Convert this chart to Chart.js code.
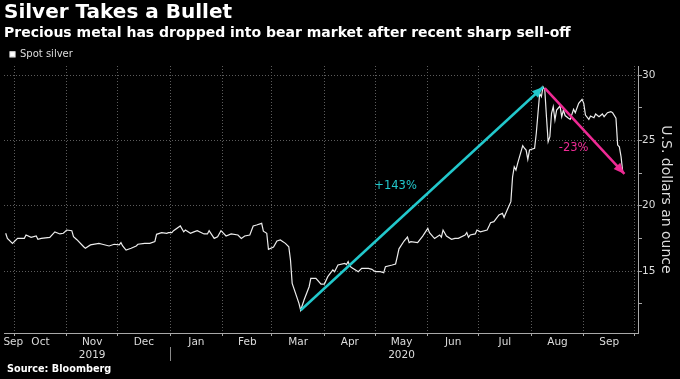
<!DOCTYPE html>
<html><head><meta charset="utf-8">
<script src="https://cdn.jsdelivr.net/npm/chart.js@4.4.1/dist/chart.umd.min.js"></script>
<style>html,body{margin:0;padding:0;background:#000;}canvas{display:block;}</style>
</head><body>
<canvas id="c" width="680" height="379"></canvas>
<script>
// ---------- data ----------
const dates = [
'2019-09-26','2019-09-27','2019-09-30','2019-10-03','2019-10-07','2019-10-08','2019-10-11','2019-10-14','2019-10-15','2019-10-17',
'2019-10-22','2019-10-25','2019-10-28','2019-10-30','2019-11-01','2019-11-04','2019-11-05','2019-11-07','2019-11-11','2019-11-12',
'2019-11-15','2019-11-20','2019-11-22','2019-11-26','2019-11-29','2019-12-02','2019-12-03','2019-12-04','2019-12-06','2019-12-09',
'2019-12-12','2019-12-13','2019-12-17','2019-12-20','2019-12-23','2019-12-24','2019-12-27','2019-12-30','2019-12-31',
'2020-01-02','2020-01-03','2020-01-07','2020-01-09','2020-01-10','2020-01-13','2020-01-15','2020-01-17','2020-01-21','2020-01-23',
'2020-01-24','2020-01-27','2020-01-29','2020-01-31','2020-02-03','2020-02-06','2020-02-10','2020-02-12','2020-02-14','2020-02-17',
'2020-02-19','2020-02-21','2020-02-24','2020-02-25','2020-02-27','2020-02-28','2020-03-02','2020-03-04','2020-03-06','2020-03-09',
'2020-03-11','2020-03-12','2020-03-13','2020-03-16','2020-03-17','2020-03-18','2020-03-20','2020-03-23','2020-03-24','2020-03-27',
'2020-03-30','2020-04-01','2020-04-03','2020-04-06','2020-04-07','2020-04-09','2020-04-13','2020-04-14','2020-04-15','2020-04-16',
'2020-04-17','2020-04-21','2020-04-23','2020-04-27','2020-04-29','2020-05-01','2020-05-04','2020-05-06','2020-05-07','2020-05-11',
'2020-05-13','2020-05-14','2020-05-15','2020-05-18','2020-05-20','2020-05-21','2020-05-22','2020-05-26','2020-05-29','2020-06-01',
'2020-06-02','2020-06-04','2020-06-05','2020-06-08','2020-06-09','2020-06-10','2020-06-12','2020-06-15','2020-06-17','2020-06-19',
'2020-06-23','2020-06-24','2020-06-25','2020-06-26','2020-06-29','2020-06-30','2020-07-02','2020-07-06','2020-07-07','2020-07-08',
'2020-07-10','2020-07-13','2020-07-15','2020-07-16','2020-07-17','2020-07-20','2020-07-21','2020-07-22','2020-07-23','2020-07-24',
'2020-07-27','2020-07-28','2020-07-29','2020-07-30','2020-07-31','2020-08-03','2020-08-04','2020-08-05','2020-08-06','2020-08-07',
'2020-08-08','2020-08-09','2020-08-10','2020-08-11','2020-08-12','2020-08-13','2020-08-14','2020-08-15','2020-08-16','2020-08-18',
'2020-08-19','2020-08-20','2020-08-21','2020-08-23','2020-08-24','2020-08-26','2020-08-27','2020-08-29','2020-08-31','2020-09-01',
'2020-09-02','2020-09-04','2020-09-05','2020-09-07','2020-09-08','2020-09-10','2020-09-12','2020-09-13','2020-09-15','2020-09-17',
'2020-09-18','2020-09-20','2020-09-21','2020-09-22','2020-09-23','2020-09-24'
];
const prices = [
17.89,17.50,17.12,17.50,17.50,17.76,17.58,17.68,17.43,17.50,
17.58,18.00,17.84,17.89,18.14,18.09,17.63,17.40,16.86,16.74,
17.00,17.12,17.05,16.92,17.05,17.00,17.17,16.92,16.61,16.74,
16.92,17.05,17.12,17.12,17.25,17.81,17.94,17.89,17.94,
17.94,18.09,18.45,18.00,18.14,17.89,18.00,18.09,17.84,17.84,
18.09,17.50,17.63,18.09,17.68,17.84,17.76,17.50,17.68,17.76,
18.45,18.52,18.65,18.05,17.89,16.66,16.84,17.30,17.38,17.12,
16.86,15.85,14.06,12.91,12.53,12.00,12.78,13.80,14.44,14.44,
14.00,14.00,14.57,15.08,14.95,15.46,15.59,15.50,15.72,15.38,
15.27,14.95,15.20,15.20,15.13,14.95,14.95,14.87,15.33,15.46,
15.54,16.10,16.70,17.30,17.60,17.17,17.25,17.17,17.68,18.27,
17.94,17.63,17.50,17.76,17.60,18.14,17.68,17.43,17.50,17.50,
17.76,17.94,17.58,17.76,17.84,18.14,18.00,18.14,18.40,18.70,
18.78,19.29,19.42,19.11,19.42,20.31,22.20,22.98,22.73,23.24,
24.60,24.40,24.26,23.55,24.26,24.39,25.54,27.07,28.60,28.34,
29.10,28.90,26.81,24.90,25.28,27.07,27.57,26.56,27.32,27.63,
26.81,27.32,26.90,26.69,26.61,27.38,27.12,27.83,28.14,27.83,
26.94,26.61,26.86,26.73,27.02,26.81,27.02,26.81,27.12,27.20,
27.12,26.69,24.64,24.50,23.75,22.60
];
const monthStarts = ['2019-09-01','2019-10-01','2019-11-01','2019-12-01','2020-01-01','2020-02-01','2020-03-01',
                     '2020-04-01','2020-05-01','2020-06-01','2020-07-01','2020-08-01','2020-09-01','2020-10-01'];
const monthNames = ['Sep','Oct','Nov','Dec','Jan','Feb','Mar','Apr','May','Jun','Jul','Aug','Sep'];
const yearNames  = ['','','2019','','','','','','2020','','','',''];
const yearBreak = '2020-01-01';
const yMajorTicks = [15,20,25,30];
const yMinorTicks = [12.5,17.5,22.5,27.5];
const riseDates = ['2020-03-18','2020-08-08'];
const riseValues = [12.0, 29.08];
const fallDates = ['2020-08-09','2020-09-25'];
const fallValues = [29.0, 22.43];
const noteTexts = ['+143%','-23%'];
const noteDates = ['2020-05-13','2020-08-26'];
const noteValues = [21.5, 24.4];
const X_START = '2019-09-25', X_END = '2020-10-03';
const Y_MIN = 10.26, Y_MAX = 30.69;

// ---------- helpers ----------
const ORIGIN = Date.UTC(2020,0,1), DAY = 86400000;
const toDay = s => { const [y,m,d] = s.split('-').map(Number); return (Date.UTC(y,m-1,d) - ORIGIN) / DAY; };
const FONT = '"DejaVu Sans", sans-serif';
const CYAN = '#22c8cc', MAGENTA = '#ee2a94', GRID = '#5c5c5c', AXIS = '#a8a8a8', TXT = '#dcdcdc';
const xMin = toDay(X_START), xMax = toDay(X_END);
const noteColors = [CYAN, MAGENTA];

const xTicks = [];
for (let i = 0; i < monthNames.length; i++) {
  const s = toDay(monthStarts[i]), e = toDay(monthStarts[i+1]);
  let mid = (s + e) / 2;
  if (mid < xMin) mid = xMin + 5.5;
  if (mid <= xMax) xTicks.push({value: mid, kind: 'label', i});
}
monthStarts.forEach(d => { const v = toDay(d); if (v > xMin && v < xMax) xTicks.push({value: v, kind: 'grid'}); });
xTicks.sort((a,b) => a.value - b.value);

const extras = {
  id: 'extras',
  beforeDraw(chart) {
    const c = chart.ctx; c.save(); c.fillStyle = '#000'; c.fillRect(0,0,chart.width,chart.height); c.restore();
  },
  afterDatasetsDraw(chart) {
    const c = chart.ctx;
    chart.data.datasets.forEach((ds, i) => {
      if (!ds.arrow) return;
      const pts = chart.getDatasetMeta(i).data;
      const a = pts[pts.length-2], b = pts[pts.length-1];
      const ang = Math.atan2(b.y - a.y, b.x - a.x), L = 11, W = 4.5;
      c.save(); c.fillStyle = ds.borderColor; c.beginPath();
      c.moveTo(b.x, b.y);
      c.lineTo(b.x - L*Math.cos(ang) + W*Math.sin(ang), b.y - L*Math.sin(ang) - W*Math.cos(ang));
      c.lineTo(b.x - L*Math.cos(ang) - W*Math.sin(ang), b.y - L*Math.sin(ang) + W*Math.cos(ang));
      c.closePath(); c.fill(); c.restore();
    });
    const xs = chart.scales.x, ys = chart.scales.y;
    c.save(); c.font = '11.5px ' + FONT; c.textAlign = 'center'; c.textBaseline = 'middle';
    noteTexts.forEach((t, i) => {
      c.fillStyle = noteColors[i];
      c.fillText(t, xs.getPixelForValue(toDay(noteDates[i])), ys.getPixelForValue(noteValues[i]));
    });
    c.restore();
  },
  afterDraw(chart) {
    const c = chart.ctx, xs = chart.scales.x;
    const bx = Math.round(xs.getPixelForValue(toDay(yearBreak))) + 0.5;
    c.save(); c.strokeStyle = '#8a8a8a'; c.lineWidth = 1; c.beginPath();
    c.moveTo(bx, xs.top + 14); c.lineTo(bx, xs.top + 28); c.stroke();
    c.font = 'bold 9.7px ' + FONT; c.fillStyle = '#ffffff'; c.textAlign = 'left'; c.textBaseline = 'alphabetic';
    c.fillText('Source: Bloomberg', 7, chart.height - 7);
    c.restore();
  }
};

new Chart(document.getElementById('c'), {
  type: 'line',
  data: {
    datasets: [
      { label: 'Spot silver', data: dates.map((d,i) => ({x: toDay(d), y: prices[i]})),
        borderColor: '#ececec', backgroundColor: '#ffffff', borderWidth: 1.2, pointRadius: 0, tension: 0, order: 1 },
      { label: 'rise', data: riseDates.map((d,i) => ({x: toDay(d), y: riseValues[i]})),
        borderColor: CYAN, borderWidth: 2.5, pointRadius: 0, order: 0, arrow: true },
      { label: 'fall', data: fallDates.map((d,i) => ({x: toDay(d), y: fallValues[i]})),
        borderColor: MAGENTA, borderWidth: 2.5, pointRadius: 0, order: 0, arrow: true }
    ]
  },
  options: {
    responsive: false, animation: false, devicePixelRatio: 1,
    layout: { padding: { left: 4, right: 0, top: 0, bottom: 0 } },
    plugins: {
      title: { display: true, text: 'Silver Takes a Bullet', align: 'start', color: '#ffffff',
               font: { family: FONT, size: 20, weight: 'bold', lineHeight: 1.2 }, padding: { top: 1, bottom: 0 } },
      subtitle: { display: true, text: 'Precious metal has dropped into bear market after recent sharp sell-off', align: 'start', color: '#ffffff',
               font: { family: FONT, size: 14, weight: 'bold', lineHeight: 1.2 }, padding: { top: 0, bottom: 1.5 } },
      legend: { display: true, position: 'top', align: 'start', maxHeight: 22.7,
        labels: { filter: it => it.datasetIndex === 0, boxWidth: 5, boxHeight: 5, padding: 6, color: TXT,
                  font: { family: FONT, size: 10 } } },
      tooltip: { enabled: false }
    },
    scales: {
      x: {
        type: 'linear', position: 'bottom', min: xMin, max: xMax, bounds: 'data',
        afterBuildTicks: s => { s.ticks = xTicks.map(t => Object.assign({}, t)); },
        afterFit: s => { s.height = 46; s.paddingLeft = 0; s.paddingRight = 0; },
        ticks: { autoSkip: false, maxRotation: 0, minRotation: 0, padding: 0, color: TXT,
                 font: { family: FONT, size: 10.5, lineHeight: 1.25 },
                 callback: (v, i, t) => {
                   const tk = t[i]; if (tk.kind !== 'label') return '';
                   return yearNames[tk.i] ? [monthNames[tk.i], yearNames[tk.i]] : monthNames[tk.i];
                 } },
        grid: { color: c => (c.tick && c.tick.kind === 'grid') ? GRID : 'rgba(0,0,0,0)',
                tickColor: c => (c.tick && c.tick.kind === 'grid') ? AXIS : 'rgba(0,0,0,0)',
                tickLength: 3, lineWidth: 1 },
        border: { display: true, color: AXIS, width: 1, dash: [1, 2] }
      },
      y: {
        type: 'linear', position: 'right', min: Y_MIN, max: Y_MAX, bounds: 'data',
        afterBuildTicks: s => {
          s.ticks = yMinorTicks.map(v => ({value: v, lbl: false})).concat(yMajorTicks.map(v => ({value: v, lbl: true})))
                    .sort((a,b) => a.value - b.value);
        },
        afterFit: s => { s.width = 42; s.paddingTop = 0; s.paddingBottom = 0; },
        ticks: { autoSkip: false, padding: 0, color: TXT, font: { family: FONT, size: 10.5 },
                 callback: (v, i, t) => t[i].lbl ? String(v) : '' },
        grid: { color: c => (c.tick && c.tick.lbl) ? GRID : 'rgba(0,0,0,0)', tickColor: AXIS, tickLength: 4, lineWidth: 1 },
        border: { display: true, color: AXIS, width: 1, dash: [1, 2] },
        title: { display: true, text: 'U.S. dollars an ounce', color: TXT, font: { family: FONT, size: 14 },
                 padding: { top: 5.8, bottom: 0 } }
      }
    }
  },
  plugins: [extras]
});
</script>
</body></html>
